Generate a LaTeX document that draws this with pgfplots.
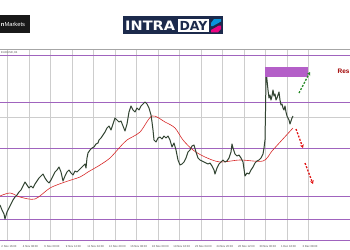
\documentclass[border=0pt]{standalone}
\usepackage{pgfplots}
\pgfplotsset{compat=1.18}
\usepackage{fontspec}
\setmainfont{Liberation Sans}
\newfontfamily\logofont{DejaVu Sans}
\usetikzlibrary{arrows.meta}
\definecolor{pline}{RGB}{160,100,190}
\definecolor{pbox}{RGB}{180,95,200}
\definecolor{navy}{RGB}{28,42,76}
\definecolor{candle}{RGB}{50,68,50}
\definecolor{maRed}{RGB}{215,40,40}
\definecolor{arrRed}{RGB}{225,20,20}
\definecolor{arrGreen}{RGB}{40,140,40}
\definecolor{resRed}{RGB}{160,0,0}
\definecolor{gridg}{RGB}{205,205,205}
\begin{document}
\begin{tikzpicture}
\begin{axis}[name=ax, scale only axis, width=350bp, height=250bp,
  xmin=0, xmax=350, ymin=0, ymax=250, y dir=reverse, hide axis, clip=false]
% vertical grid
\pgfplotsinvokeforeach{7.3,28.8,50.3,71.8,93.3,114.8,136.3,157.8,179.3,200.8,222.3,243.8,265.3,286.8,308.3}{
  \draw[gridg, line width=0.5pt] (axis cs:#1,49.5) -- (axis cs:#1,240.3);
}
\draw[gridg, line width=0.5pt] (axis cs:0,117) -- (axis cs:350,117);
\draw[gray!70, line width=0.5pt] (axis cs:0,49.5) -- (axis cs:350,49.5);
% purple levels
\addplot[pline, line width=0.8pt] coordinates {(0,55.7) (350,55.7)};
\addplot[pline, line width=0.8pt] coordinates {(0,102.5) (350,102.5)};
\addplot[pline, line width=0.8pt] coordinates {(0,148.2) (350,148.2)};
\addplot[pline, line width=0.8pt] coordinates {(0,196) (350,196)};
\addplot[pline, line width=0.8pt] coordinates {(0,219.3) (350,219.3)};
\addplot[pline, line width=0.8pt] coordinates {(0,240.3) (350,240.3)};
% moving average
\addplot[maRed, line width=0.6pt, smooth] coordinates {
(0,196) (10,193) (20,197) (35,199) (50,188) (65,182) (80,177) (88,172)
(100,165) (110,158) (120,147) (127,140) (140,132) (152,116) (165,122)
(175,128) (183,140) (193,150) (205,157) (220,162) (240,160) (263,161)
(272,151) (282,140) (293,128)};
% price
\addplot[candle, line width=1pt, line join=round] coordinates {
(0,205) (2,210) (4,214) (5,219) (7,212) (9,208) (11,204) (13,200) (15,197)
(17,195) (19,192) (21,190) (23,186) (25,182) (27,185) (29,188) (31,186)
(33,188) (35,184) (37,181) (39,178) (41,176) (43,174) (45,178) (47,181)
(49,183) (51,180) (53,176) (55,172) (57,170) (59,167) (61,172) (63,181)
(65,176) (67,172) (69,170) (71,173) (73,175) (75,171) (77,172) (79,170)
(81,168) (83,166) (85,164) (86,168) (87,158) (88,153) (90,150) (92,148)
(94,147) (96,144) (98,143) (99,140) (101,138) (103,135) (105,132) (107,128)
(109,126) (111,130) (113,124) (115,118) (117,120) (119,122) (121,121)
(123,126) (125,131) (127,124) (129,112) (131,106) (133,110) (135,112)
(137,108) (139,110) (141,106) (143,104) (145,102) (147,104) (149,108)
(151,115) (152,122) (153,130) (154,140) (156,142) (158,138) (160,137)
(162,139) (164,136) (166,138) (168,136) (170,140) (172,147) (174,143)
(176,150) (178,160) (180,165) (182,164) (184,162) (186,158) (188,152)
(190,150) (192,146) (194,145) (196,152) (198,158) (200,160) (202,161)
(204,162) (206,163) (208,164) (210,163) (212,166) (214,170) (215,174)
(217,168) (219,164) (221,162) (223,160) (225,162) (227,161) (229,158)
(231,152) (232,144) (233,148) (235,154) (237,156) (239,155) (241,158)
(243,162) (245,176) (247,173) (249,174) (251,170) (253,167) (255,163)
(257,161) (259,160) (261,158) (263,154) (264,148) (265,140) (265.7,100)
(266,70) (267,80) (268,90) (269,98) (270,95) (271,100) (272,96) (273,90)
(274,96) (275,94) (276,100) (277,98) (278,95) (279,92) (280,100) (281,105)
(282,104) (283,108) (284,110) (285,106) (286,112) (287,116) (288,118)
(289,120) (290,124) (291,121) (292,118) (293,116)};
% resistance zone
\fill[pbox] (axis cs:265,66.7) rectangle (axis cs:308.3,76.7);
% arrows
\draw[arrGreen, line width=1.3pt, dash pattern=on 2pt off 1.5pt, -{Stealth[length=3.5pt,width=4pt]}]
  (axis cs:299,93) -- (axis cs:310,72);
\draw[arrRed, line width=1.3pt, dash pattern=on 2pt off 1.5pt, -{Stealth[length=3.5pt,width=4pt]}]
  (axis cs:296,129) -- (axis cs:303,148);
\draw[arrRed, line width=1.3pt, dash pattern=on 2pt off 1.5pt, -{Stealth[length=3.5pt,width=4pt]}]
  (axis cs:305,163) -- (axis cs:313,184);
\node[anchor=east, text=resRed, font=\bfseries\fontsize{6.5}{7}\selectfont, inner sep=0pt] at (axis cs:349.8,71) {Res};
% chart caption
\node[anchor=west, text=gray!70!black, font=\fontsize{2.8}{3}\selectfont, inner sep=0pt] at (axis cs:1,52.3) {EURUSD,H4};
% time labels
\node[anchor=west, text=gray!60!black, font=\fontsize{2.8}{3}\selectfont, inner sep=0pt] at (axis cs:1.3,246.5) {2 Nov 16:00};
\node[anchor=west, text=gray!60!black, font=\fontsize{2.8}{3}\selectfont, inner sep=0pt] at (axis cs:22.8,246.5) {4 Nov 08:00};
\node[anchor=west, text=gray!60!black, font=\fontsize{2.8}{3}\selectfont, inner sep=0pt] at (axis cs:44.3,246.5) {6 Nov 00:00};
\node[anchor=west, text=gray!60!black, font=\fontsize{2.8}{3}\selectfont, inner sep=0pt] at (axis cs:65.8,246.5) {9 Nov 12:00};
\node[anchor=west, text=gray!60!black, font=\fontsize{2.8}{3}\selectfont, inner sep=0pt] at (axis cs:87.3,246.5) {11 Nov 04:00};
\node[anchor=west, text=gray!60!black, font=\fontsize{2.8}{3}\selectfont, inner sep=0pt] at (axis cs:108.8,246.5) {12 Nov 20:00};
\node[anchor=west, text=gray!60!black, font=\fontsize{2.8}{3}\selectfont, inner sep=0pt] at (axis cs:130.3,246.5) {16 Nov 08:00};
\node[anchor=west, text=gray!60!black, font=\fontsize{2.8}{3}\selectfont, inner sep=0pt] at (axis cs:151.8,246.5) {18 Nov 00:00};
\node[anchor=west, text=gray!60!black, font=\fontsize{2.8}{3}\selectfont, inner sep=0pt] at (axis cs:173.3,246.5) {19 Nov 16:00};
\node[anchor=west, text=gray!60!black, font=\fontsize{2.8}{3}\selectfont, inner sep=0pt] at (axis cs:194.8,246.5) {23 Nov 04:00};
\node[anchor=west, text=gray!60!black, font=\fontsize{2.8}{3}\selectfont, inner sep=0pt] at (axis cs:216.3,246.5) {24 Nov 20:00};
\node[anchor=west, text=gray!60!black, font=\fontsize{2.8}{3}\selectfont, inner sep=0pt] at (axis cs:237.8,246.5) {26 Nov 12:00};
\node[anchor=west, text=gray!60!black, font=\fontsize{2.8}{3}\selectfont, inner sep=0pt] at (axis cs:259.3,246.5) {30 Nov 00:00};
\node[anchor=west, text=gray!60!black, font=\fontsize{2.8}{3}\selectfont, inner sep=0pt] at (axis cs:280.8,246.5) {1 Dec 16:00};
\node[anchor=west, text=gray!60!black, font=\fontsize{2.8}{3}\selectfont, inner sep=0pt] at (axis cs:302.3,246.5) {3 Dec 08:00};
% left logo
\fill[black!90] (axis cs:-5,15) rectangle (axis cs:30,33);
\node[anchor=west, text=white, font=\fontsize{5.8}{6}\selectfont, inner sep=0pt] at (axis cs:0.8,24) {\textbf{n}Markets};
% INTRADAY logo
\fill[navy] (axis cs:123.3,16.3) rectangle (axis cs:223.3,34);
\fill[white] (axis cs:177.7,19) rectangle (axis cs:209.3,32.3);
\node[anchor=west, text=white, font=\logofont\bfseries\fontsize{13}{13}\selectfont, inner sep=0pt, xscale=1.12] at (axis cs:125,25.5) {INTRA};
\node[anchor=center, text=navy, font=\logofont\bfseries\fontsize{12.5}{13}\selectfont, inner sep=0pt] at (axis cs:193.5,25.7) {DAY};
\fill[cyan!80!blue] (axis cs:214,19) -- (axis cs:221,19) -- (axis cs:221,21.5) -- (axis cs:213,26) -- (axis cs:211,26) -- (axis cs:211,23) -- cycle;
\fill[magenta!90!red] (axis cs:211,32.3) -- (axis cs:218,32.3) -- (axis cs:221,29) -- (axis cs:221,25.5) -- (axis cs:219,25.5) -- (axis cs:211,30) -- cycle;
\end{axis}
\pgfresetboundingbox
\path[use as bounding box] (ax.south west) rectangle (ax.north east);
\end{tikzpicture}
\end{document}
